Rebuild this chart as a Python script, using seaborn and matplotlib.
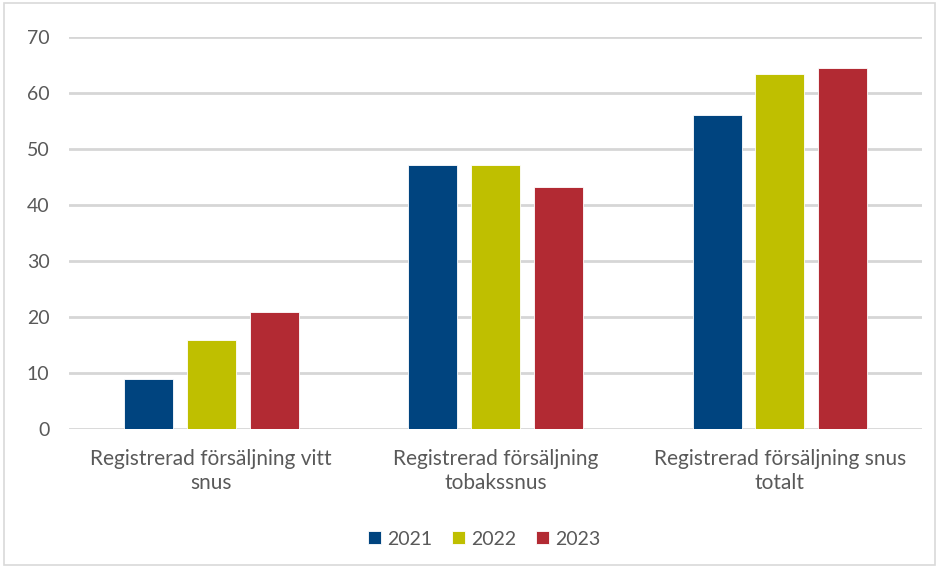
"""
Registrerad försäljning av snus 2021-2023
"""
import matplotlib
matplotlib.use("Agg")
import matplotlib.pyplot as plt
import seaborn as sns
import pandas as pd
from matplotlib.patches import Rectangle

categories = [
    "Registrerad försäljning vitt\nsnus",
    "Registrerad försäljning\ntobakssnus",
    "Registrerad försäljning snus\ntotalt",
]
years = ["2021", "2022", "2023"]
values_2021 = [9, 47.1, 56.1]
values_2022 = [16, 47.1, 63.3]
values_2023 = [21, 43.2, 64.4]
colors = ["#00447F", "#BFBF00", "#B22A33"]

df = pd.DataFrame({
    "kategori": categories * 3,
    "år": [y for y in years for _ in categories],
    "värde": values_2021 + values_2022 + values_2023,
})

sns.set_style("white")
plt.rcParams["font.family"] = ["Lato", "DejaVu Sans"]
text_color = "#595959"

fig = plt.figure(figsize=(9.39, 5.67), dpi=100)
ax = fig.add_axes([0.0735, 0.243, 0.9085, 0.692])

sns.barplot(data=df, x="kategori", y="värde", hue="år", palette=colors,
            width=0.663, gap=0.22, ax=ax, saturation=1,
            edgecolor="white", linewidth=0.6)

ax.set_ylim(0, 70)
ax.set_xlim(-0.5, 2.5)
ax.set_yticks(range(0, 71, 10))
ax.yaxis.grid(True, color="#D6D6D6", linewidth=2)
ax.set_axisbelow(True)
sns.despine(ax=ax, left=True, bottom=True)
ax.set_xlabel("")
ax.set_ylabel("")
ax.tick_params(axis="both", length=0, colors=text_color)
ax.tick_params(axis="y", pad=14, labelsize=14)
ax.tick_params(axis="x", pad=14, labelsize=15)
for lbl in ax.get_xticklabels():
    lbl.set_linespacing(1.25)

leg = ax.legend(loc="center", bbox_to_anchor=(0.487, -0.28), ncol=3,
                frameon=False, fontsize=14, handlelength=0.65, handleheight=0.65,
                handletextpad=0.35, columnspacing=1.0)
for t in leg.get_texts():
    t.set_color(text_color)

fig.patches.append(Rectangle((0.004, 0.004), 0.992, 0.99, transform=fig.transFigure,
                             fill=False, edgecolor="#D9D9D9", linewidth=1.2))

fig.savefig("out.png", dpi=100)
plt.close(fig)
